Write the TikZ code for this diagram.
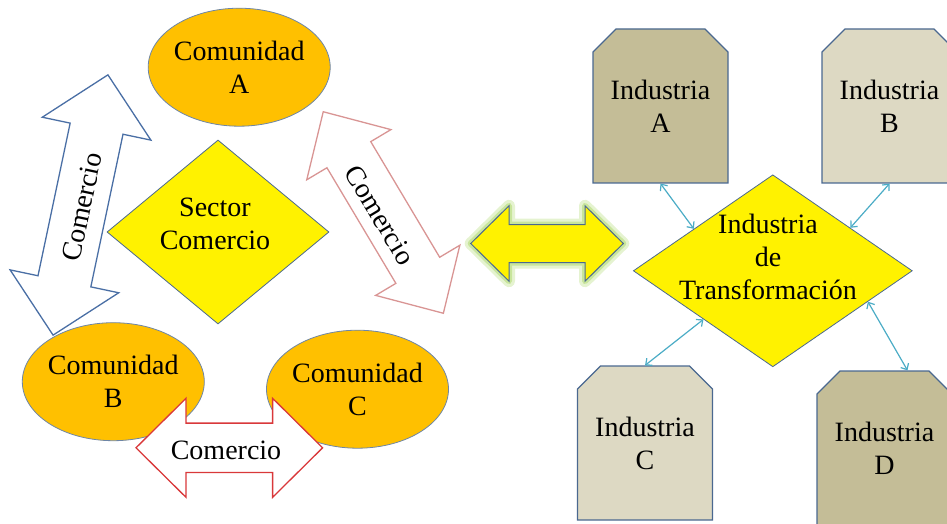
\documentclass[tikz,border=0pt]{standalone}
\usepackage{fontspec}
\setmainfont{Liberation Serif}
\newfontfamily\timesfont{Liberation Serif}
\usepackage{tikz}
\usetikzlibrary{arrows.meta}
\usetikzlibrary{shapes.geometric}
\usetikzlibrary{shapes.misc}
\definecolor{edgeblue}{HTML}{4A6890}
\definecolor{gold}{HTML}{FFC000}
\definecolor{tandark}{HTML}{C4BD97}
\definecolor{tanlight}{HTML}{DDD9C3}
\definecolor{aqua}{HTML}{4BACC6}
\definecolor{rosy}{HTML}{D99594}
\definecolor{tradered}{HTML}{D9383A}
\definecolor{glow}{HTML}{B5DC78}
\definecolor{arrowblue}{HTML}{4A6FA5}
\colorlet{rimgrey}{edgeblue!80!white}

\tikzset{
  pics/tradearrow/.style n args={4}{code={
    \path[pic actions] (-#1,0) -- ({-#1+#2},#3) -- ({-#1+#2},#4) -- ({#1-#2},#4)
      -- ({#1-#2},#3) -- (#1,0) -- ({#1-#2},-#3) -- ({#1-#2},-#4)
      -- ({-#1+#2},-#4) -- ({-#1+#2},-#3) -- cycle;
  }}
}

\begin{document}
\begin{tikzpicture}[x=1pt,y=1pt,
  txt/.style={font=\timesfont\fontsize{28}{33}\selectfont, align=center},
  comunidad/.style={ellipse, draw=rimgrey, fill=gold, line width=0.8pt,
    minimum width=182pt, minimum height=118pt, inner sep=-4pt, txt},
  sector/.style={diamond, draw=edgeblue, fill=yellow, line width=0.8pt, inner sep=0pt},
  industria/.style={chamfered rectangle, chamfered rectangle corners={north west,north east},
    chamfered rectangle sep=11.5pt, draw=edgeblue, line width=1.2pt,
    minimum width=135pt, minimum height=154pt, inner sep=0pt, txt},
  link/.style={aqua, line width=1.2pt,
    {Straight Barb[length=5pt,width=9pt]}-{Straight Barb[length=5pt,width=9pt]}}]
\useasboundingbox (0,0) rectangle (947,523);

\pic[draw=arrowblue, fill=white, line width=1.3pt, rotate=78.1] at (80.5,318) {tradearrow={133}{55}{55.5}{27}};
\node[txt, rotate=78.1] (comAB) at (82,316) {Comercio};
\pic[draw=rosy, fill=white, line width=1.3pt, rotate=-59.2] at (383.3,310.5) {tradearrow={117.3}{50}{49}{25.5}};
\node[txt, rotate=-59.2] (comAC) at (380,308) {Comercio};

\node[sector, minimum width=222pt, minimum height=184pt] (sec) at (218,291) {};
\node[txt] (secText) at (215,299.5) {Sector\\Comercio};

\node[comunidad] (comA) at (239.2,455.8) {Comunidad\\A};
\node[comunidad] (comB) at (113.3,141.3) {Comunidad\\B};
\node[comunidad] (comC) at (357.5,133.8) {Comunidad\\C};

\pic[draw=tradered, fill=white, line width=1.3pt] at (229.3,75.2) {tradearrow={93.3}{50}{49.5}{24.7}};
\node[txt] (comBC) at (226,73) {Comercio};

\pic[draw=glow, line width=12pt, line join=round, opacity=0.35] at (547,279.5) {tradearrow={76.3}{38.3}{37.7}{19}};
\pic[draw=glow, line width=6pt, line join=round, opacity=0.6] at (547,279.5) {tradearrow={76.3}{38.3}{37.7}{19}};
\pic[draw=edgeblue, fill=yellow, line width=1pt] at (547,279.5) {tradearrow={76.3}{38.3}{37.7}{19}};

\node[industria, fill=tandark] (indA) at (660.5,417) {Industria\\A};
\node[industria, fill=tanlight] (indB) at (889.5,417) {Industria\\B};
\node[industria, fill=tanlight] (indC) at (645,80) {Industria\\C};
\node[industria, fill=tandark] (indD) at (884.5,75) {Industria\\D};

\node[sector, minimum width=279pt, minimum height=192pt] (tra) at (772.8,252.2) {};
\node[txt] (traText) at (768,266) {Industria\\de\\Transformación};

\draw[link] (indA.south) -- (tra.152);
\draw[link] (indB.south) -- (tra.29);
\draw[link] (indC.north) -- (tra.215);
\draw[link] ([xshift=23pt]indD.north) -- (tra.-18);
\end{tikzpicture}
\end{document}
